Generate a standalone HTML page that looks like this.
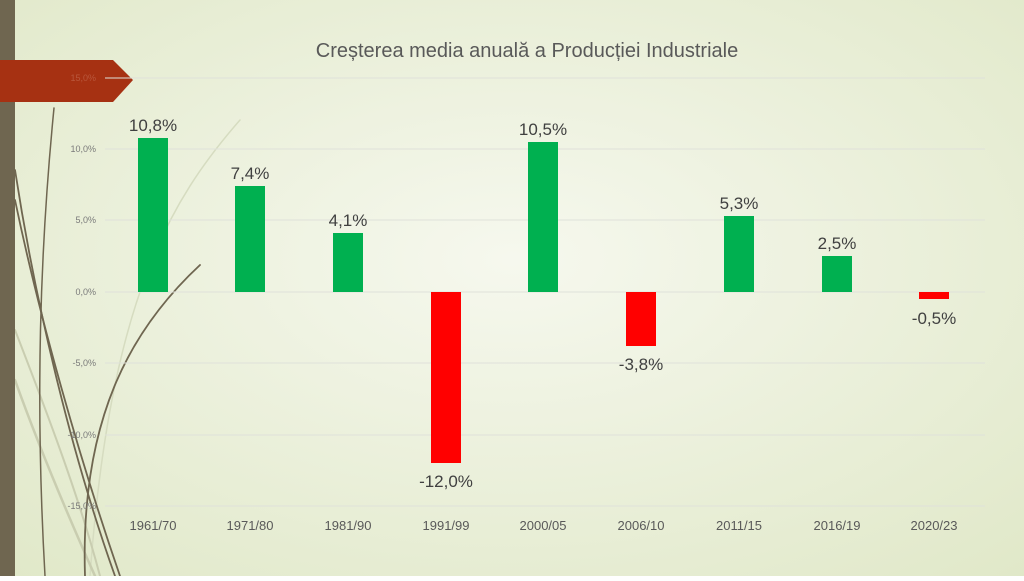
<!DOCTYPE html>
<html><head><meta charset="utf-8"><style>
body{margin:0;width:1024px;height:576px;overflow:hidden;font-family:"Liberation Sans",sans-serif;}
</style></head><body>
<svg width="1024" height="576" viewBox="0 0 1024 576" xmlns="http://www.w3.org/2000/svg">
<defs>
<radialGradient id="bg" cx="0.5" cy="0.45" r="0.75">
<stop offset="0" stop-color="#f6f8ee"/><stop offset="1" stop-color="#e0e8c8"/>
</radialGradient>
</defs>
<rect width="1024" height="576" fill="url(#bg)"/>
<g fill="none" stroke-linecap="round">
<path d="M240 120 C170 200 110 300 90 576" stroke="#d6dcc0" stroke-width="1.5"/>
<path d="M15 380 C40 450 70 520 95 576" stroke="#c9cdb0" stroke-width="2.5"/>
<path d="M15 330 C50 420 80 500 100 576" stroke="#c9cdb0" stroke-width="2"/>
<path d="M15 170 C35 300 70 450 115 576" stroke="#6f6650" stroke-width="1.8"/>
<path d="M15 200 C40 320 80 460 120 576" stroke="#6f6650" stroke-width="1.8"/>
<path d="M54 108 C40 250 35 400 45 576" stroke="#6f6650" stroke-width="1.5"/>
<path d="M200 265 C130 330 80 420 85 576" stroke="#6f6650" stroke-width="1.8"/>
</g>
<rect x="0" y="0" width="15" height="576" fill="#6f6650"/>
<polygon points="0,60 113,60 133,80 113,102 0,102" fill="#a63112"/>
<g stroke="#dfe1da" stroke-width="1">
<line x1="105" y1="78" x2="985" y2="78"/>
<line x1="105" y1="149" x2="985" y2="149"/>
<line x1="105" y1="220" x2="985" y2="220"/>
<line x1="105" y1="292" x2="985" y2="292"/>
<line x1="105" y1="363" x2="985" y2="363"/>
<line x1="105" y1="435" x2="985" y2="435"/>
<line x1="105" y1="506" x2="985" y2="506"/>
</g>
<g font-size="9" fill="#7a7a7a" text-anchor="end">
<text x="96" y="81" fill="#b9573c">15,0%</text>
<text x="96" y="152">10,0%</text>
<text x="96" y="223">5,0%</text>
<text x="96" y="295">0,0%</text>
<text x="96" y="366">-5,0%</text>
<text x="96" y="438">-10,0%</text>
<text x="96" y="509">-15,0%</text>
</g>
<text x="527" y="57" font-size="20" fill="#595959" text-anchor="middle">Creșterea media anuală a Producției Industriale</text>
<g>
<rect x="138" y="138" width="30" height="154" fill="#00b050"/>
<rect x="235" y="186" width="30" height="106" fill="#00b050"/>
<rect x="333" y="233" width="30" height="59" fill="#00b050"/>
<rect x="431" y="292" width="30" height="171" fill="#ff0000"/>
<rect x="528" y="142" width="30" height="150" fill="#00b050"/>
<rect x="626" y="292" width="30" height="54" fill="#ff0000"/>
<rect x="724" y="216" width="30" height="76" fill="#00b050"/>
<rect x="822" y="256" width="30" height="36" fill="#00b050"/>
<rect x="919" y="292" width="30" height="7" fill="#ff0000"/>
</g>
<g font-size="17" fill="#404040" text-anchor="middle">
<text x="153" y="131">10,8%</text>
<text x="250" y="179">7,4%</text>
<text x="348" y="226">4,1%</text>
<text x="446" y="487">-12,0%</text>
<text x="543" y="135">10,5%</text>
<text x="641" y="370">-3,8%</text>
<text x="739" y="209">5,3%</text>
<text x="837" y="249">2,5%</text>
<text x="934" y="324">-0,5%</text>
</g>
<g font-size="13" fill="#595959" text-anchor="middle">
<text x="153" y="530">1961/70</text>
<text x="250" y="530">1971/80</text>
<text x="348" y="530">1981/90</text>
<text x="446" y="530">1991/99</text>
<text x="543" y="530">2000/05</text>
<text x="641" y="530">2006/10</text>
<text x="739" y="530">2011/15</text>
<text x="837" y="530">2016/19</text>
<text x="934" y="530">2020/23</text>
</g>
</svg>
</body></html>
